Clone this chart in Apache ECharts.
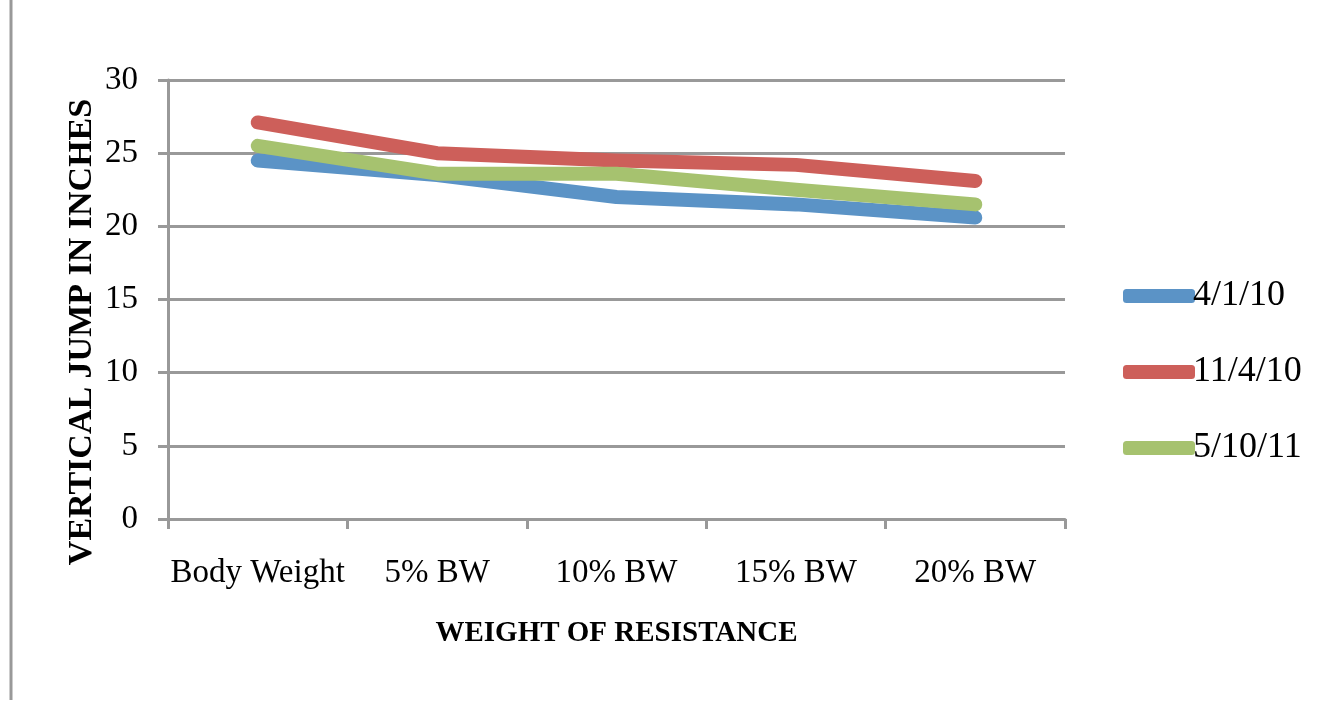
<!DOCTYPE html>
<html><head><meta charset="utf-8">
<script src="https://cdn.jsdelivr.net/npm/echarts@6/dist/echarts.min.js"></script>
<style>html,body{margin:0;padding:0;background:#fff}#c{width:1334px;height:707px}</style>
</head><body><div id="c"></div>
<script>
const categories = ['Body Weight', '5% BW', '10% BW', '15% BW', '20% BW'];
const seriesNames = ['4/1/10', '11/4/10', '5/10/11'];
const s1 = [24.5, 23.5, 22.0, 21.5, 20.6];
const s2 = [27.1, 25.0, 24.5, 24.2, 23.1];
const s3 = [25.5, 23.6, 23.6, 22.5, 21.5];
const yTicks = [0, 5, 10, 15, 20, 25, 30];
const yTitle = 'VERTICAL JUMP IN INCHES';
const xTitle = 'WEIGHT OF RESISTANCE';
const colors = ['#5B93C6', '#CD5F5A', '#A6C26F'];
const font = '"Liberation Serif", "DejaVu Serif", serif';
const chart = echarts.init(document.getElementById('c'));
const data = [s1, s2, s3];
chart.setOption({
  animation: false,
  color: colors,
  graphic: [
    {type: 'line', shape: {x1: 11, y1: 0, x2: 11, y2: 700}, style: {stroke: '#999', lineWidth: 3}},
    {type: 'text', x: 82, y: 332, rotation: Math.PI / 2,
     style: {text: yTitle, font: 'bold 34px ' + font, fill: '#000', textAlign: 'center', textVerticalAlign: 'middle'}}
  ],
  grid: {left: 168, right: 269, top: 80, bottom: 188},
  legend: {
    orient: 'vertical', left: 1118, top: 273, itemGap: 40,
    icon: 'roundRect', itemWidth: 72, itemHeight: 14,
    textStyle: {fontFamily: font, fontSize: 36, color: '#000', padding: [0, 0, 0, -7]},
    data: seriesNames
  },
  xAxis: {
    type: 'category', data: categories, boundaryGap: true,
    name: xTitle, nameLocation: 'middle', nameGap: 100,
    nameTextStyle: {fontFamily: font, fontSize: 29, fontWeight: 'bold', color: '#000'},
    axisLine: {lineStyle: {color: '#999', width: 3}},
    axisTick: {show: true, length: 10, lineStyle: {color: '#999', width: 3}, interval: 0},
    axisLabel: {fontFamily: font, fontSize: 33, color: '#000', margin: 38, interval: 0}
  },
  yAxis: {
    type: 'value', min: yTicks[0], max: yTicks[yTicks.length - 1], interval: 5,
    axisLine: {show: true, lineStyle: {color: '#999', width: 3}},
    axisTick: {show: true, length: 10, lineStyle: {color: '#999', width: 3}},
    axisLabel: {fontFamily: font, fontSize: 33, color: '#000', margin: 30},
    splitLine: {lineStyle: {color: '#999', width: 3}}
  },
  series: seriesNames.map((n, i) => ({
    name: n, type: 'line', data: data[i], showSymbol: false, symbol: 'none',
    lineStyle: {width: 14, cap: 'round', join: 'round', color: colors[i]}
  }))
});
</script></body></html>
